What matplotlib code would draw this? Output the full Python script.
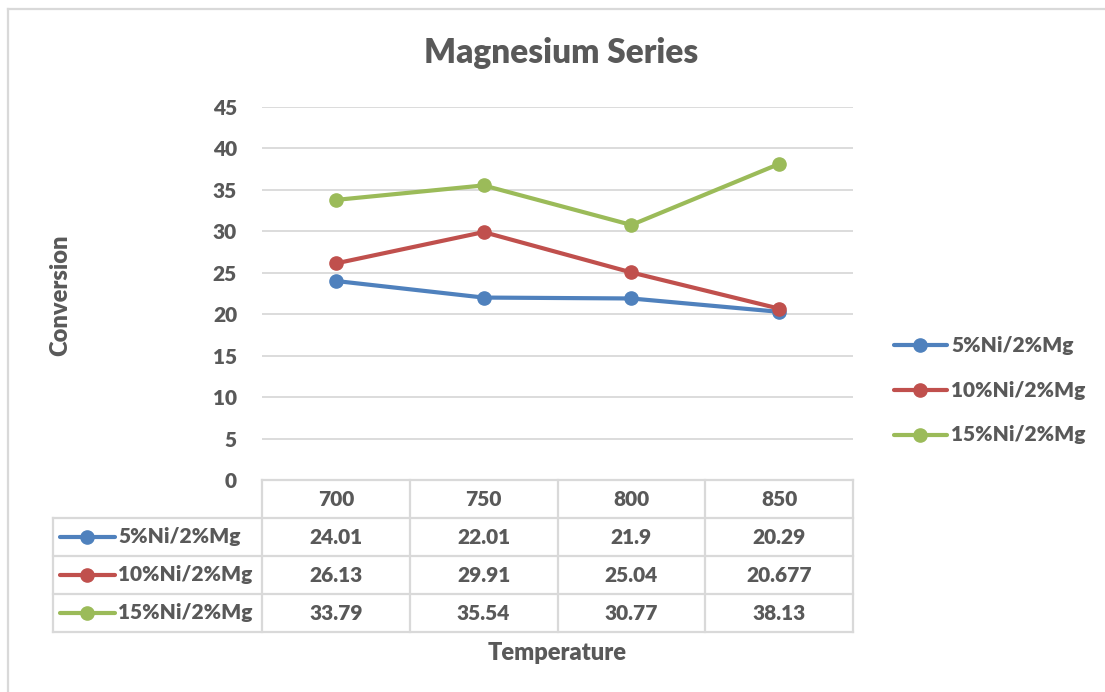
import numpy as np
import matplotlib
matplotlib.use('Agg')
import matplotlib.pyplot as plt
import matplotlib.transforms as mtransforms
from matplotlib.lines import Line2D

# data
#
temperatures = ['700', '750', '800', '850']
series_names = ['5%Ni/2%Mg', '10%Ni/2%Mg', '15%Ni/2%Mg']
ni5 = [24.01, 22.01, 21.9, 20.29]
ni10 = [26.13, 29.91, 25.04, 20.677]
ni15 = [33.79, 35.54, 30.77, 38.13]
table_text = [['24.01', '22.01', '21.9', '20.29'],
              ['26.13', '29.91', '25.04', '20.677'],
              ['33.79', '35.54', '30.77', '38.13']]

colors = ['#4F81BD', '#C0504D', '#9BBB59']
txt = '#595959'
grid = '#D9D9D9'
wt = 'heavy'
fs = 15

plt.rcParams['font.family'] = ['Lato', 'DejaVu Sans']

W, H = 1105, 692
fig = plt.figure(figsize=(W / 100, H / 100), dpi=100)

def fx(px):
  return px / W

def fy(py):
  return 1 - py / H

# plot area
#
ax = fig.add_axes([fx(262), fy(480), fx(853) - fx(262), fy(107) - fy(480)])
xs = np.arange(len(temperatures))
for vals, name, c in zip([ni5, ni10, ni15], series_names, colors):
  ax.plot(xs, vals, color=c, lw=3.0, marker='o', ms=9.5, label=name,
          solid_capstyle='round', zorder=3)

ax.set_xlim(-0.5, len(temperatures) - 0.5)
ax.set_ylim(0, 45)
ax.set_yticks(np.arange(0, 46, 5))
ax.yaxis.grid(True, color=grid, lw=1.3)
ax.set_axisbelow(True)
for s in ax.spines.values():
  s.set_visible(False)
ax.tick_params(axis='y', length=0, pad=18, labelsize=fs, labelcolor=txt)
ax.tick_params(axis='x', length=0, labelbottom=False)
for lb in ax.get_yticklabels():
  lb.set_fontweight(wt)

# labels
#
fig.text(fx(561), fy(53), 'Magnesium Series', ha='center', va='center',
         fontsize=24, color=txt, fontweight=wt)
fig.text(fx(60), fy(295), 'Conversion', ha='center', va='center',
         rotation=90, fontsize=17, color=txt, fontweight=wt)
fig.text(fx(557), fy(653), 'Temperature', ha='center', va='center',
         fontsize=17, color=txt, fontweight=wt)

# data table
#
bt = mtransforms.blended_transform_factory(ax.transData, fig.transFigure)
row_y = [480, 518, 556, 594, 632]
edges = [-0.5 + i for i in range(len(temperatures) + 1)]

def hline(x0, x1, y):
  fig.add_artist(Line2D([fx(x0), fx(x1)], [fy(y), fy(y)], color=grid, lw=1.6))

def vline(x, y0, y1):
  fig.add_artist(Line2D([fx(x), fx(x)], [fy(y0), fy(y1)], color=grid, lw=1.6))

hline(262, 853, row_y[0])
for y in row_y[1:]:
  hline(53, 853, y)
vline(53, row_y[1], row_y[-1])
for e in edges:
  xp = ax.transData.transform((e, 0))[0]
  vline(xp, row_y[0], row_y[-1])

for i, t in enumerate(temperatures):
  fig.text(i, fy((row_y[0] + row_y[1]) / 2), t, transform=bt, ha='center',
           va='center', fontsize=fs, color=txt, fontweight=wt)

for r, (name, c) in enumerate(zip(series_names, colors)):
  yc = (row_y[r + 1] + row_y[r + 2]) / 2
  fig.add_artist(Line2D([fx(60), fx(115)], [fy(yc), fy(yc)], color=c, lw=3.0,
                        solid_capstyle='round'))
  fig.add_artist(Line2D([fx(87)], [fy(yc)], color=c, marker='o', ms=9.5))
  fig.text(fx(118), fy(yc), name, ha='left', va='center', fontsize=fs,
           color=txt, fontweight=wt)
  for i, v in enumerate(table_text[r]):
    fig.text(i, fy(yc), v, transform=bt, ha='center', va='center',
             fontsize=fs, color=txt, fontweight=wt)

# legend
#
for r, (name, c) in enumerate(zip(series_names, colors)):
  yc = [345, 390, 435][r]
  fig.add_artist(Line2D([fx(894), fx(947)], [fy(yc), fy(yc)], color=c, lw=3.0,
                        solid_capstyle='round'))
  fig.add_artist(Line2D([fx(920)], [fy(yc)], color=c, marker='o', ms=9.5))
  fig.text(fx(951), fy(yc), name, ha='left', va='center', fontsize=fs,
           color=txt, fontweight=wt)

# chart border
#
fig.add_artist(Line2D([fx(8), fx(1105)], [fy(9), fy(9)], color=grid, lw=1.6))
fig.add_artist(Line2D([fx(8), fx(8)], [fy(9), fy(692)], color=grid, lw=1.6))

# output
#
fig.savefig('out.png', dpi=100)
